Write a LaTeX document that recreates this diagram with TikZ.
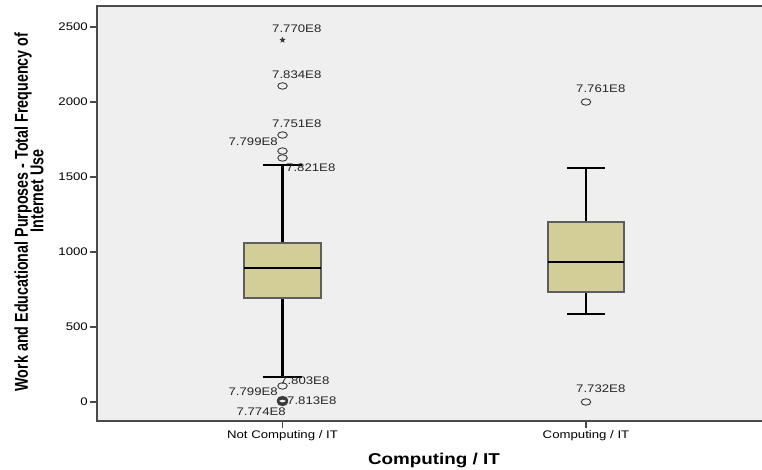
\documentclass[tikz,border=0pt]{standalone}
\usepackage{fontspec}
\usepackage{graphicx}
\setmainfont{Liberation Sans}[FakeStretch=1.2]
\newfontfamily\ytitlefont{Liberation Sans}
\usetikzlibrary{shapes.geometric}
\definecolor{spssbg}{HTML}{EFEFEF}
\definecolor{spssframe}{HTML}{4A4A4A}
\definecolor{spssbox}{HTML}{D3CE98}
\definecolor{spssboxline}{HTML}{5E5E5E}
\definecolor{spssmark}{HTML}{3A3A3A}
\tikzset{
  ticklab/.style={font=\fontsize{11}{13}\selectfont,text=black,inner sep=0pt},
  caselab/.style={font=\fontsize{11}{13}\selectfont,text=black!85,inner sep=0pt},
  outlier/.style={ellipse,draw=spssmark,line width=0.9pt,minimum width=9.5pt,
    minimum height=6.5pt,inner sep=0pt},
  extreme/.style={star,star points=5,star point ratio=2.2,fill=spssmark,
    minimum size=6.5pt,inner sep=0pt},
  boxfill/.style={fill=spssbox,draw=spssboxline,line width=1.4pt},
  whisker/.style={line width=2.3pt,black},
  median/.style={line width=2.8pt,black}
}

\begin{document}
\begin{tikzpicture}[x=1pt,y=1pt]
  \useasboundingbox (0,0) rectangle (762,470);
  \clip (0,0) rectangle (762,470);
  \fill[white] (0,0) rectangle (762,470);
  % plot area
  \draw[fill=spssbg,draw=spssframe,line width=1.8pt] (97,49) rectangle (775,464);
  % category axis
  \draw[spssframe,line width=1.2pt] (282.5,49) -- (282.5,42) (586,49) -- (586,42);
  \node[ticklab] (xtick1) at (282.5,34) {Not Computing / IT};
  \node[ticklab] (xtick2) at (586,34) {Computing / IT};
  \node[font=\fontsize{15.7}{18}\selectfont\bfseries,inner sep=0pt] (xtitle) at (434,10) {Computing / IT};
  % value axis title, two lines
  \node[rotate=90,inner sep=0pt] (ytitle1) at (23,258)
    {\scalebox{1}[1.3]{\ytitlefont\fontsize{14.3}{16}\selectfont\bfseries Work and Educational Purposes - Total Frequency of}};
  \node[rotate=90,inner sep=0pt] (ytitle2) at (37,279)
    {\scalebox{1}[1.3]{\ytitlefont\fontsize{14.3}{16}\selectfont\bfseries Internet Use}};
  \begin{scope}[shift={(0,68)},y=0.15pt]
    \foreach \v in {0,500,...,2500}{
      \draw[spssframe,line width=1.2pt] (90,\v) -- (97,\v);
      \node[ticklab,anchor=east] (ytick\v) at (88,\v) {\v};
    }
    % Not Computing / IT
    \draw[whisker] (263,1580) -- (302,1580) (282.5,1580) -- (282.5,1060)
      (282.5,693) -- (282.5,167) (263,167) -- (302,167);
    \draw[boxfill] (244,693) rectangle (321,1060);
    \draw[median] (244,893) -- (321,893);
    \node[extreme] (c7770) at (282.5,2413) {};
    \node[outlier] (c7834) at (282.5,2107) {};
    \node[outlier] (c7751) at (282.5,1780) {};
    \node[outlier] (c7799a) at (282.5,1673) {};
    \node[outlier] (c7821) at (282.5,1627) {};
    \node[outlier] (c7803) at (282.5,107) {};
    \node[outlier,line width=1.6pt] (c7799b) at (282.5,13) {};
    \node[outlier,line width=1.6pt] (c7813) at (282.5,7) {};
    \node[outlier,line width=1.6pt] (c7774) at (282.5,0) {};
    \node[caselab,anchor=west] (l7770) at (272,2487) {7.770E8};
    \node[caselab,anchor=west] (l7834) at (272,2180) {7.834E8};
    \node[caselab,anchor=west] (l7751) at (272,1853) {7.751E8};
    \node[caselab,anchor=east] (l7799a) at (278,1733) {7.799E8};
    \node[caselab,anchor=west] (l7821) at (286,1560) {7.821E8};
    \node[caselab,anchor=west] (l7803) at (280,140) {7.803E8};
    \node[caselab,anchor=east] (l7799b) at (278,67) {7.799E8};
    \node[caselab,anchor=west] (l7813) at (287,7) {7.813E8};
    \node[caselab,anchor=east] (l7774) at (286,-67) {7.774E8};
    % Computing / IT
    \draw[whisker,line width=1.8pt] (567,1560) -- (605,1560) (586,1560) -- (586,1200)
      (586,733) -- (586,587) (567,587) -- (605,587);
    \draw[boxfill] (548,733) rectangle (624,1200);
    \draw[median] (548,933) -- (624,933);
    \node[outlier] (c7761) at (586,2000) {};
    \node[outlier] (c7732) at (586,0) {};
    \node[caselab,anchor=west] (l7761) at (576,2087) {7.761E8};
    \node[caselab,anchor=west] (l7732) at (576,87) {7.732E8};
  \end{scope}
\end{tikzpicture}
\end{document}
